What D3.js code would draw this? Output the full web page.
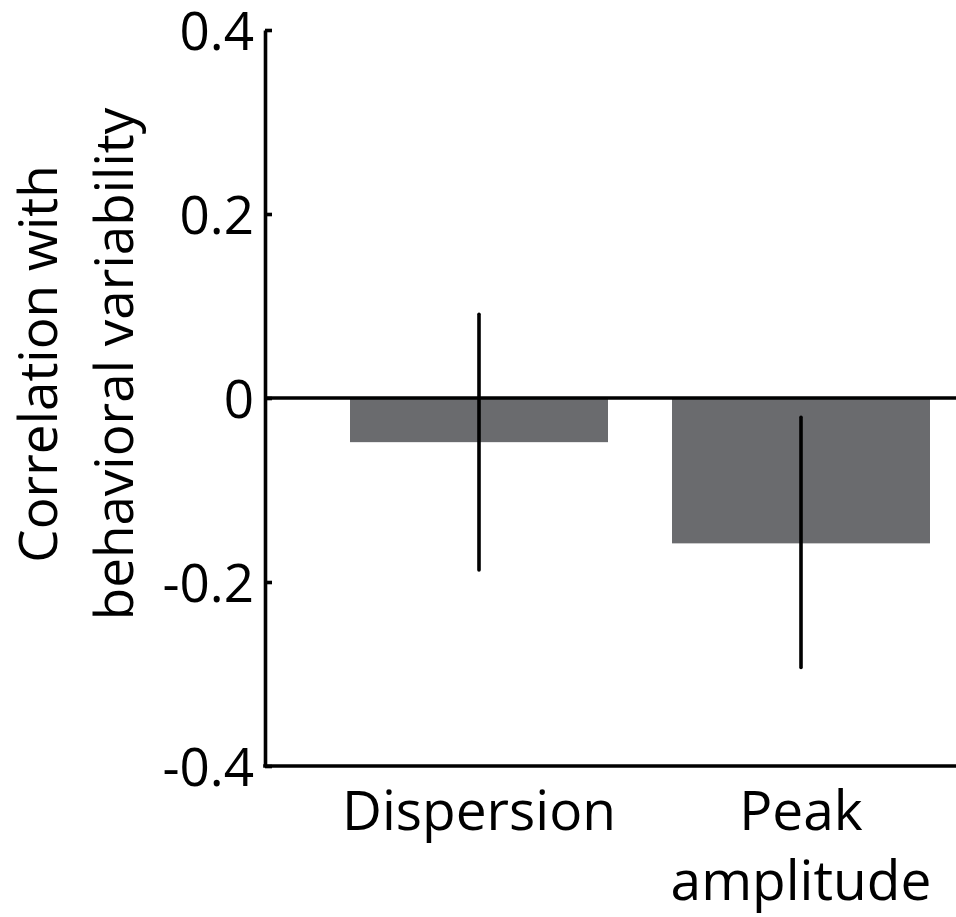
<!DOCTYPE html>
<html><head><meta charset="utf-8">
<script src="https://cdn.jsdelivr.net/npm/d3@7"></script>
<style>body{margin:0;background:#fff}svg{display:block}text{font-family:"Open Sans",sans-serif;fill:#000}</style>
</head><body><svg id="c" width="956" height="917"></svg>
<script>
const categories = [["Dispersion"], ["Peak", "amplitude"]];
const means = [-0.048, -0.158];
const errLow = [-0.187, -0.293];
const errHigh = [0.091, -0.021];
const yTicks = [-0.4, -0.2, 0, 0.2, 0.4];
const yTickLabels = ["-0.4", "-0.2", "0", "0.2", "0.4"];
const yLabel = ["Correlation with", "behavioral variability"];

(function(){
const svg = d3.select("#c");
const mL = 265, mR = 956, mT = 30, mB = 766;
const lw = 3.6;
const y = d3.scaleLinear().domain([-0.4, 0.4]).range([mB, mT]);
const x = d3.scaleBand().domain(d3.range(categories.length)).range([265, 1015]).paddingInner(0.1988).paddingOuter(0.264);

// bars
svg.selectAll("rect.bar").data(means).join("rect")
  .attr("x", (d,i)=>x(i)).attr("width", x.bandwidth())
  .attr("y", d=>y(Math.max(0,d))).attr("height", d=>Math.abs(y(d)-y(0)))
  .attr("fill", "#6a6b6e");

// zero line
svg.append("line").attr("x1", mL).attr("x2", mR).attr("y1", y(0)).attr("y2", y(0))
  .attr("stroke", "#000").attr("stroke-width", lw);

// error bars
svg.selectAll("line.err").data(means).join("line")
  .attr("x1", (d,i)=>x(i)+x.bandwidth()/2).attr("x2", (d,i)=>x(i)+x.bandwidth()/2)
  .attr("y1", (d,i)=>y(errHigh[i])).attr("y2", (d,i)=>y(errLow[i]))
  .attr("stroke", "#000").attr("stroke-width", lw).attr("stroke-linecap", "round");

// y axis
const yAxis = d3.axisLeft(y).tickValues(yTicks).tickFormat((d,i)=>yTickLabels[i]).tickSizeInner(-7).tickSizeOuter(0).tickPadding(11);
const ga = svg.append("g").attr("transform", `translate(${mL},0)`).call(yAxis);
ga.select(".domain").attr("stroke", "#000").attr("stroke-width", lw);
ga.selectAll(".tick line").attr("stroke", "#000").attr("stroke-width", lw);
ga.selectAll(".tick text").attr("font-size", 53).attr("font-family", "Open Sans").attr("fill","#000").attr("dy", "0.36em");

// x axis line
svg.append("line").attr("x1", mL-lw/2).attr("x2", mR).attr("y1", mB).attr("y2", mB)
  .attr("stroke", "#000").attr("stroke-width", lw);

// category labels
categories.forEach((lines, i) => {
  const cx = x(i)+x.bandwidth()/2;
  const t = svg.append("text").attr("text-anchor", "middle").attr("font-size", 55)
    .attr("x", cx).attr("y", 830);
  lines.forEach((l, j) => t.append("tspan").attr("x", cx).attr("dy", j===0?0:70).text(l));
});

// y label
const yl = svg.append("text").attr("text-anchor", "middle").attr("font-size", 53)
  .attr("transform", "translate(57,364) rotate(-90)");
yLabel.forEach((l, j) => yl.append("tspan").attr("x", 0).attr("dy", j===0?0:76).text(l));
})();
</script></body></html>
